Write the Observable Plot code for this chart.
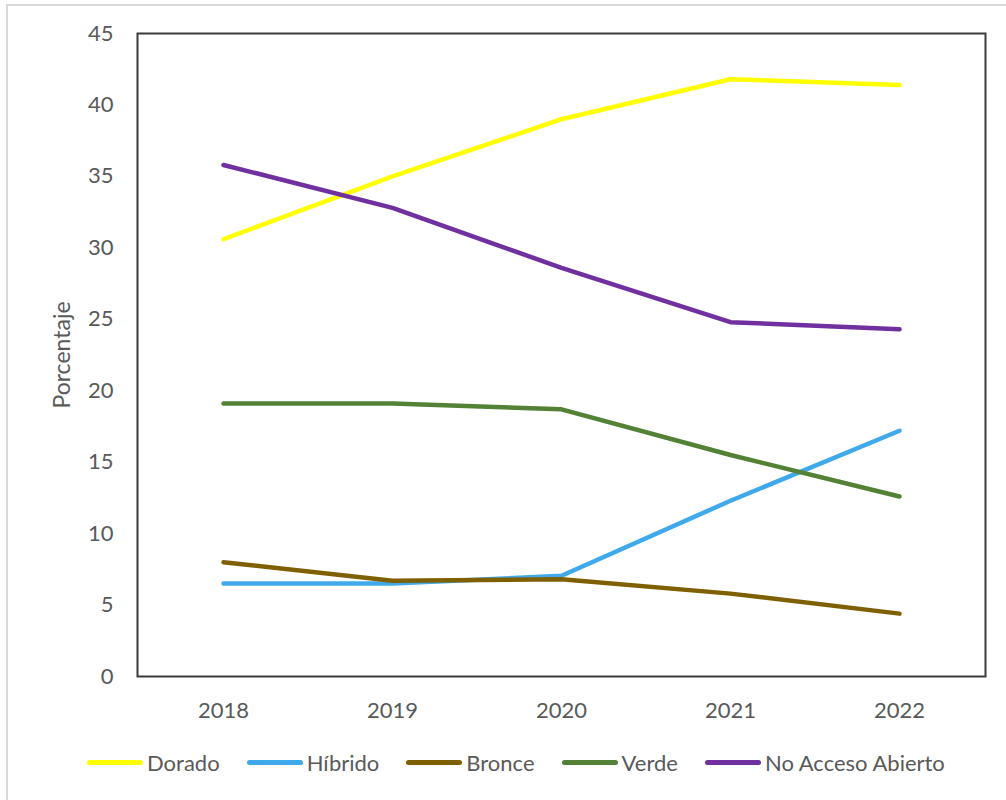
<!DOCTYPE html>
<html>
<head>
<meta charset="utf-8">
<script src="https://cdn.jsdelivr.net/npm/d3@7"></script>
<script src="https://cdn.jsdelivr.net/npm/@observablehq/plot@0.6"></script>
<style>
  html, body { margin: 0; padding: 0; background: #fff; }
  #wrap { position: relative; width: 1006px; height: 800px; overflow: hidden; font-family: Lato, "Open Sans", sans-serif; }
  #border { position: absolute; left: 6px; top: 4px; width: 1010px; height: 820px; border: 2px solid #d9d9d9; box-sizing: border-box; }
  #chart { position: absolute; left: 0; top: 0; }
  #legend { position: absolute; left: 87px; top: 749px; display: flex; align-items: center; font-size: 22px; color: #595959; }
  .item { display: flex; align-items: center; margin-right: 27px; }
  .sw { width: 56px; height: 5px; border-radius: 3px; margin-right: 4px; }
</style>
</head>
<body>
<div id="wrap">
  <div id="border"></div>
  <div id="chart"></div>
  <div id="legend"></div>
</div>
<script>
const years = ["2018", "2019", "2020", "2021", "2022"];
const seriesNames = ["Dorado", "Híbrido", "Bronce", "Verde", "No Acceso Abierto"];
const seriesColors = ["#FFFF00", "#3FA9EC", "#7F6000", "#538135", "#7030A0"];
const dorado = [30.6, 35.0, 39.0, 41.8, 41.4];
const hibrido = [6.5, 6.5, 7.05, 12.3, 17.2];
const bronce = [8.0, 6.7, 6.8, 5.8, 4.4];
const verde = [19.1, 19.1, 18.7, 15.5, 12.6];
const noAcceso = [35.8, 32.8, 28.6, 24.8, 24.3];
const yTicks = [0, 5, 10, 15, 20, 25, 30, 35, 40, 45];
const yLabel = "Porcentaje";

const seriesValues = [dorado, hibrido, bronce, verde, noAcceso];
const data = [];
seriesNames.forEach((name, i) => {
  years.forEach((yr, j) => data.push({ series: name, year: yr, value: seriesValues[i][j] }));
});

const chart = Plot.plot({
  width: 1006,
  height: 740,
  marginLeft: 137,
  marginRight: 21,
  marginTop: 33,
  marginBottom: 64,
  style: { fontFamily: "Lato, 'Open Sans', sans-serif", fontSize: "22px", color: "#595959", background: "transparent" },
  x: { type: "point", domain: years, padding: 0.5, label: null, tickSize: 0, tickPadding: 26 },
  y: { domain: [0, 45], ticks: yTicks, tickSize: 0, tickPadding: 24, label: null },
  color: { domain: seriesNames, range: seriesColors },
  marks: [
    Plot.frame({ stroke: "#3a3a3a", strokeWidth: 2 }),
    Plot.text([yLabel], { text: d => d, frameAnchor: "left", textAnchor: "middle", rotate: -90, dx: -75, fontSize: 23, fill: "#595959" }),
    Plot.line(data, { x: "year", y: "value", z: "series", stroke: "series", strokeWidth: 4.5, strokeLinecap: "round", strokeLinejoin: "round" })
  ]
});
document.getElementById("chart").appendChild(chart);

const legend = document.getElementById("legend");
seriesNames.forEach((name, i) => {
  const it = document.createElement("div");
  it.className = "item";
  const sw = document.createElement("div");
  sw.className = "sw";
  sw.style.background = seriesColors[i];
  const tx = document.createElement("span");
  tx.textContent = name;
  it.appendChild(sw); it.appendChild(tx);
  legend.appendChild(it);
});
</script>
</body>
</html>
